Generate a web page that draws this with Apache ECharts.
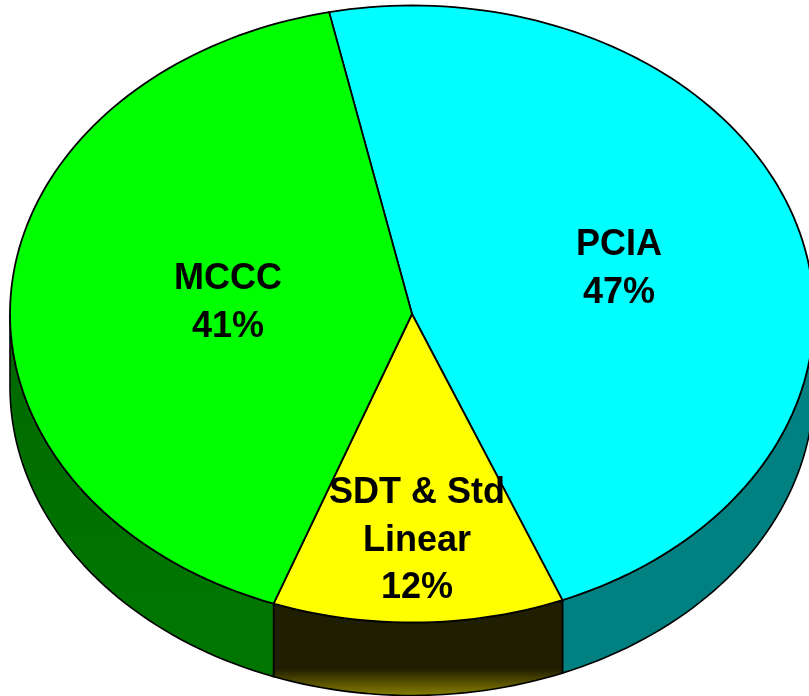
<!DOCTYPE html>
<html>
<head>
<meta charset="utf-8">
<style>html,body{margin:0;padding:0;background:#fff}#c1{width:809px;height:696px}</style>
<script src="https://cdn.jsdelivr.net/npm/echarts@6/dist/echarts.min.js"></script>
</head>
<body>
<div id="c1"></div>
<script>
// data, clockwise from the MCCC/PCIA boundary
// slice sizes, the labels show them rounded
var categories = ['PCIA', 'SDT & Std\nLinear', 'MCCC'];
var values = [47.2, 11.7, 41.1];

// styles and layout
var topColors = ['#00ffff', '#ffff00', '#00ff00'];
var labelPos = [[619, 269], [417, 541], [228, 303]];
var cx = 412, cy = 314, rx = 402, ry = 308.5, depth = 73;
var startAngle = -11.9;

// wall shading, each runs down the page
var sideStops = [
	[[0.80, '#008080'], [0.93, '#008080'], [1, '#006060']],
	[[0, '#201e00'], [0.93, '#201e00'], [1, '#857d00']],
	[[0, '#006800'], [0.80, '#007600'], [0.93, '#007600'], [1, '#005800']]
];

var total = 0;
for (var i = 0; i < values.length; i++) total += values[i];

function pt(deg, dy) {
	var t = deg * Math.PI / 180;
	return [cx + rx * Math.sin(t), cy - ry * Math.cos(t) + dy];
}
function arc(a0, a1, dy) {
	var pts = [];
	var n = Math.ceil(Math.abs(a1 - a0) / 1.5);
	for (var k = 0; k <= n; k++) pts.push(pt(a0 + (a1 - a0) * k / n, dy));
	return pts;
}
function sliceAngles(idx) {
	var sum = 0;
	for (var k = 0; k < idx; k++) sum += values[k];
	var a0 = startAngle + echarts.number.linearMap(sum, [0, total], [0, 360]);
	var a1 = a0 + echarts.number.linearMap(values[idx], [0, total], [0, 360]);
	return [a0, a1];
}
function sideFill(idx) {
	var stops = [];
	for (var k = 0; k < sideStops[idx].length; k++) {
		stops.push({ offset: sideStops[idx][k][0], color: sideStops[idx][k][1] });
	}
	// 320 to 695 is the whole height the walls use
	return new echarts.graphic.LinearGradient(0, 320, 0, 695, stops, true);
}

function renderSlice(params) {
	var idx = params.dataIndex;
	var a = sliceAngles(idx);
	var children = [];
	// wall, only the front half of the disc shows one
	var s0 = Math.max(a[0], 90), s1 = Math.min(a[1], 270);
	if (s1 > s0) {
		children.push({
			type: 'polygon',
			shape: { points: arc(s0, s1, 0).concat(arc(s1, s0, depth)) },
			style: { fill: sideFill(idx), stroke: '#000', lineWidth: 1.6 },
			z2: 1
		});
	}
	// top face
	children.push({
		type: 'polygon',
		shape: { points: [[cx, cy]].concat(arc(a[0], a[1], 0)) },
		style: { fill: topColors[idx], stroke: '#000', lineWidth: 1.8, lineJoin: 'round' },
		z2: 2
	});
	children.push({
		type: 'text',
		x: labelPos[idx][0],
		y: labelPos[idx][1],
		style: {
			text: categories[idx] + '\n' + Math.round(values[idx]) + '%',
			fill: '#000',
			font: 'bold 36px "Liberation Sans", Arial, sans-serif',
			lineHeight: 47.5,
			align: 'center',
			verticalAlign: 'middle'
		},
		z2: 10
	});
	return { type: 'group', children: children };
}

var seriesData = [];
for (var j = 0; j < values.length; j++) {
	seriesData.push({ name: categories[j], value: values[j] });
}

var myChart = echarts.init(document.getElementById('c1'));
var option = {
	animation: false,
	backgroundColor: '#fff',
	series: [{
		type: 'custom',
		coordinateSystem: 'none',
		silent: true,
		renderItem: renderSlice,
		data: seriesData
	}]
};
myChart.setOption(option);
</script>
</body>
</html>
